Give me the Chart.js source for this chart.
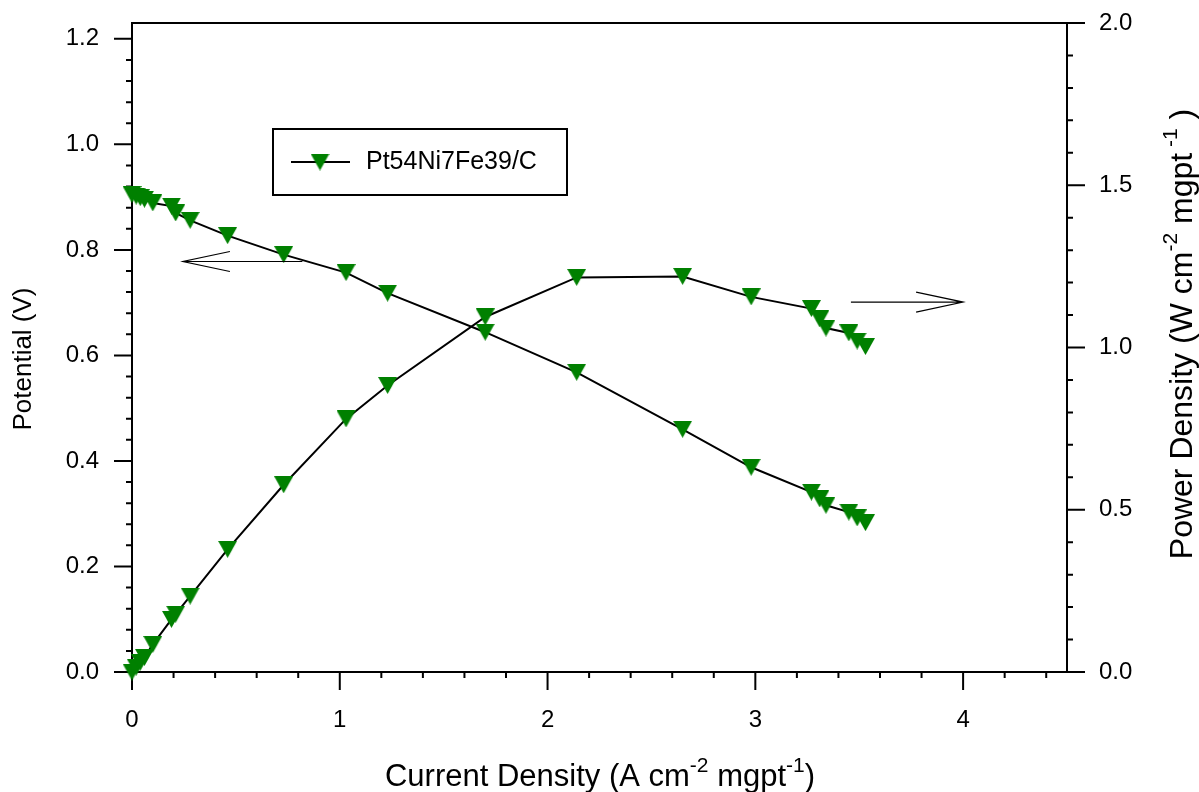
<!DOCTYPE html>
<html>
<head>
<meta charset="utf-8">
<script src="https://cdn.jsdelivr.net/npm/chart.js@4.4.0/dist/chart.umd.min.js"></script>
<style>
  html, body { margin: 0; padding: 0; background: #fff; }
  #wrap { width: 1199px; height: 792px; position: relative; }
</style>
</head>
<body>
<div id="wrap"><canvas id="pol"></canvas></div>
<script>
// data
const current   = [0.00, 0.02, 0.04, 0.06, 0.10, 0.19, 0.21, 0.28, 0.46, 0.73, 1.03, 1.23, 1.70, 2.14, 2.65, 2.98, 3.27, 3.31, 3.34, 3.45, 3.49, 3.53]
const potential = [0.905, 0.902, 0.899, 0.896, 0.889, 0.883, 0.870, 0.856, 0.827, 0.791, 0.757, 0.718, 0.644, 0.568, 0.460, 0.388, 0.341, 0.328, 0.316, 0.303, 0.292, 0.283]
const power     = [0.000, 0.015, 0.030, 0.045, 0.085, 0.162, 0.178, 0.234, 0.378, 0.577, 0.780, 0.883, 1.094, 1.216, 1.219, 1.156, 1.120, 1.088, 1.060, 1.045, 1.020, 1.003]

const xTicks     = [0, 1, 2, 3, 4]
const leftTicks  = [0, 0.2, 0.4, 0.6, 0.8, 1.0, 1.2]
const rightTicks = [0, 0.5, 1.0, 1.5, 2.0]
const seriesName = 'Pt54Ni7Fe39/C'

const FONT = "'Liberation Sans', Arial, sans-serif"
Chart.defaults.font.family = FONT
Chart.defaults.color = '#000'

// down triangle marker, centred in its own box
const tri = document.createElement('canvas')
tri.width = 19
tri.height = 17
const tctx = tri.getContext('2d')
tctx.fillStyle = '#008000'
tctx.beginPath()
tctx.moveTo(0, 0)
tctx.lineTo(19, 0)
tctx.lineTo(9.5, 17)
tctx.closePath()
tctx.fill()

// text with superscripts, centred on (cx, cy) baseline
function richText(ctx, parts, cx, cy, angle, size, supSize, rise) {
  ctx.save()
  ctx.translate(cx, cy)
  ctx.rotate(angle)
  ctx.textAlign = 'left'
  ctx.textBaseline = 'alphabetic'
  ctx.fillStyle = '#000'
  let w = 0
  parts.forEach(p => {
    ctx.font = (p.sup ? supSize : size) + 'px ' + FONT
    p.w = ctx.measureText(p.t).width
    w += p.w
  })
  let x = -w / 2
  parts.forEach(p => {
    ctx.font = (p.sup ? supSize : size) + 'px ' + FONT
    ctx.fillText(p.t, x, p.sup ? -rise : 0)
    x += p.w
  })
  ctx.restore()
}

function arrow(ctx, x1, x2, y) {
  // x2 is the tip
  const d = x2 > x1 ? -1 : 1
  ctx.beginPath()
  ctx.moveTo(x1, y); ctx.lineTo(x2, y)
  ctx.moveTo(x2 + d * 47, y - 10); ctx.lineTo(x2, y); ctx.lineTo(x2 + d * 47, y + 10)
  ctx.stroke()
}

const frame = {
  id: 'frame',
  beforeDatasetsDraw(chart) {
    const ctx = chart.ctx
    const {left, right, top, bottom} = chart.chartArea
    const sx = chart.scales.x, sl = chart.scales.yL, sr = chart.scales.yR
    ctx.save()
    ctx.strokeStyle = '#000'
    ctx.lineWidth = 2
    ctx.lineCap = 'butt'
    ctx.strokeRect(left, top, right - left, bottom - top)
    ctx.beginPath()
    // bottom ticks
    for (let i = 0; i * 0.2 <= 4.4 + 1e-9; i++) {
      const v = i * 0.2, p = sx.getPixelForValue(v)
      const major = Math.abs(v - Math.round(v)) < 1e-6
      ctx.moveTo(p, bottom); ctx.lineTo(p, bottom + (major ? 18 : 6))
    }
    // left ticks
    for (let i = 0; i * 0.04 <= 1.2 + 1e-9; i++) {
      const p = sl.getPixelForValue(i * 0.04)
      ctx.moveTo(left, p); ctx.lineTo(left - (i % 5 === 0 ? 18 : 6), p)
    }
    // right ticks
    for (let i = 0; i * 0.1 <= 2.0 + 1e-9; i++) {
      const p = sr.getPixelForValue(i * 0.1)
      ctx.moveTo(right, p); ctx.lineTo(right + (i % 5 === 0 ? 18 : 6), p)
    }
    ctx.stroke()
    ctx.restore()
  },
  afterDraw(chart) {
    const ctx = chart.ctx
    const {left, top} = chart.chartArea
    const sx = chart.scales.x, sl = chart.scales.yL, sr = chart.scales.yR
    ctx.save()
    // legend
    const lx = left + 141, ly = top + 106
    ctx.strokeStyle = '#000'
    ctx.lineWidth = 2
    ctx.strokeRect(lx, ly, 294, 66)
    ctx.beginPath()
    ctx.moveTo(lx + 18, ly + 33); ctx.lineTo(lx + 77, ly + 33)
    ctx.stroke()
    ctx.drawImage(tri, lx + 47 - 9.5, ly + 33 - 8.5)
    ctx.fillStyle = '#000'
    ctx.font = '25px ' + FONT
    ctx.textBaseline = 'middle'
    ctx.fillText(seriesName, lx + 93, ly + 33)
    // arrows
    ctx.lineWidth = 1.2
    arrow(ctx, sx.getPixelForValue(0.82), sx.getPixelForValue(0.245), sl.getPixelForValue(0.778))
    arrow(ctx, sx.getPixelForValue(3.46), sx.getPixelForValue(4.0), sr.getPixelForValue(1.14))
    ctx.restore()
    // axis titles
    richText(ctx, [{t: 'Current Density (A cm'}, {t: '-2', sup: true}, {t: ' mgpt'}, {t: '-1', sup: true}, {t: ')'}],
      600, 786, 0, 31, 21, 14)
    richText(ctx, [{t: 'Potential (V)'}], 31, 359, -Math.PI / 2, 26, 18, 10)
    richText(ctx, [{t: 'Power Density (W cm'}, {t: '-2', sup: true}, {t: ' mgpt'}, {t: ' -1', sup: true}, {t: ' )'}],
      1192, 334, -Math.PI / 2, 32, 21, 15)
  }
}

const pol = document.getElementById('pol')

new Chart(pol, {
  type: 'line',
  data: {
    datasets: [{
      label: seriesName + ' potential',
      data: current.map((x, i) => ({x: x, y: potential[i]})),
      yAxisID: 'yL',
      borderColor: '#000',
      borderWidth: 2,
      pointStyle: tri,
      clip: false
    }, {
      label: seriesName + ' power',
      data: current.map((x, i) => ({x: x, y: power[i]})),
      yAxisID: 'yR',
      borderColor: '#000',
      borderWidth: 2,
      pointStyle: tri,
      clip: false
    }]
  },
  options: {
    responsive: true,
    maintainAspectRatio: false,
    animation: false,
    layout: { padding: { top: 23, left: 0, right: 0, bottom: 0 } },
    plugins: { legend: { display: false }, tooltip: { enabled: false } },
    scales: {
      x: {
        type: 'linear', min: 0, max: 4.5,
        grid: { display: false, drawTicks: false }, border: { display: false },
        afterFit: s => { s.height = 120; s.paddingLeft = 0; s.paddingRight = 0 },
        afterBuildTicks: s => { s.ticks = xTicks.map(v => ({value: v})) },
        ticks: { padding: 34, font: { size: 24 }, maxRotation: 0, callback: v => String(v) }
      },
      yL: {
        type: 'linear', position: 'left', min: 0, max: 1.23,
        grid: { display: false, drawTicks: false }, border: { display: false },
        afterFit: s => { s.width = 132; s.paddingTop = 0; s.paddingBottom = 0 },
        afterBuildTicks: s => { s.ticks = leftTicks.map(v => ({value: v})) },
        ticks: { padding: 33, font: { size: 24 }, callback: v => v.toFixed(1) }
      },
      yR: {
        type: 'linear', position: 'right', min: 0, max: 2.0,
        grid: { display: false, drawTicks: false }, border: { display: false },
        afterFit: s => { s.width = 132; s.paddingTop = 0; s.paddingBottom = 0 },
        afterBuildTicks: s => { s.ticks = rightTicks.map(v => ({value: v})) },
        ticks: { padding: 32, font: { size: 24 }, callback: v => v.toFixed(1) }
      }
    }
  },
  plugins: [frame]
});
</script>
</body>
</html>
